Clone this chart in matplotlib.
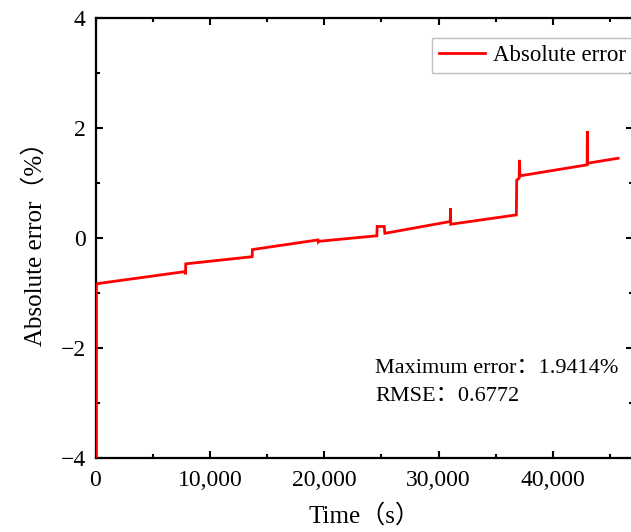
import matplotlib
matplotlib.use("Agg")
import matplotlib.pyplot as plt
from matplotlib.ticker import MultipleLocator, FuncFormatter

# Data (breakpoints of the error trace)
time_s = [80, 80, 150, 7850, 7870, 7890, 13700, 13720, 19450, 19480, 19520,
          24600, 24630, 25250, 25300, 31020, 31040, 31060, 36800, 36830,
          37050, 37080, 37110, 42990, 43010, 43030, 45700]
abs_error = [-4.0, -0.84, -0.83, -0.61, -0.66, -0.47, -0.34, -0.21, -0.035, -0.07, -0.06,
             0.04, 0.21, 0.21, 0.085, 0.30, 0.54, 0.25, 0.42, 1.05,
             1.09, 1.42, 1.13, 1.33, 1.9414, 1.36, 1.45]

x_ticks = [0, 10000, 20000, 30000, 40000]
y_ticks = [-4, -2, 0, 2, 4]
max_err_text = "Maximum error：1.9414%"
rmse_text = "RMSE：0.6772"

plt.rcParams['font.family'] = ['Liberation Serif', 'Noto Sans CJK SC']
plt.rcParams['axes.unicode_minus'] = True

W, H = 631, 532
fig = plt.figure(figsize=(W / 100, H / 100), dpi=100)
left, right, top, bottom = 95.5, 633, 18, 458
ax = fig.add_axes([left / W, 1 - bottom / H, (right - left) / W, (bottom - top) / H])

ax.plot(time_s, abs_error, color='#ff0000', lw=2.0, label='Absolute error',
        solid_joinstyle='miter', zorder=3)

ax.set_xlim(0, 47000)
ax.set_ylim(-4, 4)
ax.set_xticks(x_ticks)
ax.set_yticks(y_ticks)
ax.xaxis.set_minor_locator(MultipleLocator(5000))
ax.yaxis.set_minor_locator(MultipleLocator(1))
ax.xaxis.set_major_formatter(FuncFormatter(lambda v, p: f"{int(v):,}"))

ax.tick_params(which='both', direction='in', top=True, right=True,
               labelsize=17, width=1.5, colors='black')
ax.tick_params(which='major', length=5, pad=7)
ax.tick_params(axis='x', which='major', pad=9)
ax.tick_params(which='minor', length=3)
for s in ax.spines.values():
    s.set_linewidth(1.6)

ax.set_xlabel("Time（s）", fontsize=18, labelpad=9)
ax.set_ylabel("Absolute error（%）", fontsize=18, labelpad=10)

leg = ax.legend(loc='upper left', bbox_to_anchor=(432 / W, 1 - 38 / H),
                bbox_transform=fig.transFigure, fontsize=16.5, frameon=True,
                fancybox=False, borderaxespad=0, handlelength=2.0,
                handletextpad=0.35, borderpad=0.3)
leg.get_frame().set_edgecolor('#b0b0b0')
leg.get_frame().set_linewidth(1.0)

fig.text(375 / W, 1 - 368 / H, max_err_text, fontsize=16, va='center', ha='left')
fig.text(375 / W, 1 - 396 / H, rmse_text, fontsize=16, va='center', ha='left')

fig.savefig("out.png", dpi=100)
